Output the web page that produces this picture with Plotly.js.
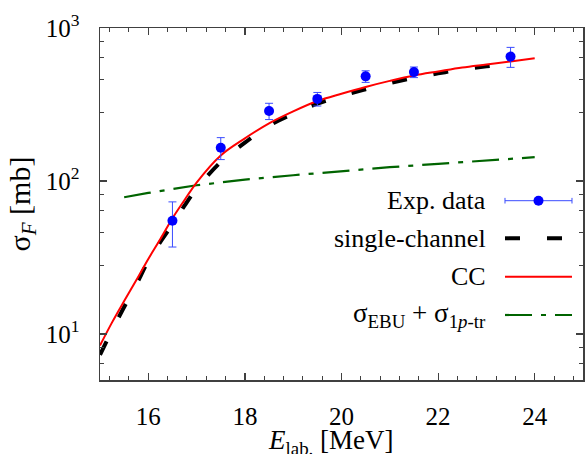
<!DOCTYPE html>
<html>
<head>
<meta charset="utf-8">
<script src="https://cdn.plot.ly/plotly-3.0.1.min.js"></script>
<style>html,body{margin:0;padding:0;background:#fff;}#chart{width:588px;height:454px;}</style>
</head>
<body>
<div id="chart"></div>
<script>
// Experimental data
const expE = [16.5, 17.5, 18.5, 19.5, 20.5, 21.5, 23.5];
const expSigma = [55, 165, 287, 344, 483, 515, 650];
const expErr = [18, 27, 35, 35, 42, 41, 97];

// single-channel calculation
const scE = [15, 15.25, 15.5, 15.75, 16, 16.25, 16.5, 16.75, 17, 17.5, 18, 18.5, 19, 19.5, 20, 20.5, 21, 21.5, 22, 22.5, 23, 23.5];
const scSigma = [7.3, 10.6, 15.0, 21, 30, 40, 52, 69, 89, 133, 178, 230, 275, 320, 360, 398, 437, 472, 505, 537, 562, 585];

// CC calculation
const ccE = [15, 15.25, 15.5, 15.75, 16, 16.25, 16.5, 16.75, 17, 17.5, 18, 18.5, 19, 19.5, 20, 20.5, 21, 21.5, 22, 22.5, 23, 23.5, 24];
const ccSigma = [8.4, 11.9, 16.4, 22.4, 30.9, 41.7, 57, 75, 97.7, 147, 190, 238, 285, 333, 372, 412, 451, 489, 520, 552, 578, 605, 635];

// sigma_EBU + sigma_1p-tr
const ebuE = [15.5, 16, 17, 18, 19, 20, 21, 22, 23, 24];
const ebuSigma = [78.3, 83.5, 93.8, 102, 109, 116.4, 123, 129.4, 136.5, 143];

// Axis ticks
const xTickVals = [16, 18, 20, 22, 24];
const xTickText = ['16', '18', '20', '22', '24'];
const xMinorVals = [15.2, 15.6, 16.4, 16.8, 17.2, 17.6, 18.4, 18.8, 19.2, 19.6, 20.4, 20.8, 21.2, 21.6, 22.4, 22.8, 23.2, 23.6, 24.4, 24.8];
const yTickVals = [10, 100, 1000];
const yTickText = ['10<sup>1</sup>', '10<sup>2</sup>', '10<sup>3</sup>'];
const yMinorVals = [6.4, 8.2, 28, 46, 64, 82, 280, 460, 640, 820];

// Labels
const legendLabels = ['Exp. data', 'single-channel', 'CC', 'σ<sub>EBU</sub> + σ<sub>1<i>p</i>-tr</sub>'];
const xTitle = '<i>E</i><sub>lab.</sub> [MeV]';
const yTitle = 'σ<sub><i>F</i></sub> [mb]';

const FONT = 'Liberation Serif';

const traces = [
  {
    x: ebuE, y: ebuSigma, mode: 'lines', type: 'scatter',
    line: {color: '#006400', width: 2.2, dash: '27px,9px,5px,9px'},
    showlegend: false, hoverinfo: 'skip'
  },
  {
    x: scE, y: scSigma, mode: 'lines', type: 'scatter',
    line: {color: '#000000', width: 4, dash: '15px,27px', shape: 'spline'},
    showlegend: false, hoverinfo: 'skip'
  },
  {
    x: ccE, y: ccSigma, mode: 'lines', type: 'scatter',
    line: {color: '#ff0000', width: 2, shape: 'spline'},
    showlegend: false, hoverinfo: 'skip'
  },
  {
    x: expE, y: expSigma, mode: 'markers', type: 'scatter',
    marker: {color: '#0000ff', size: 10},
    error_y: {type: 'data', array: expErr, visible: true, color: '#3a4cff', thickness: 1, width: 4},
    showlegend: false, hoverinfo: 'skip'
  }
];

// legend geometry (paper coords)
const lx0 = 0.8385, lx1 = 0.9772, ltext = 0.803;
const ly = [0.5094, 0.4026, 0.2935, 0.1847];

const annotations = legendLabels.map((t, i) => ({
  text: t, xref: 'paper', yref: 'paper', x: ltext, y: ly[i],
  xanchor: 'right', yanchor: 'middle', showarrow: false,
  font: {family: FONT, size: i === 3 ? 27 : 26, color: '#000'}
}));
// x-axis title placed as annotation below the tick labels (centre at ~441 px)
annotations.push({
  text: xTitle, xref: 'paper', yref: 'paper', x: 0.478, y: -0.176,
  xanchor: 'center', yanchor: 'middle', showarrow: false,
  font: {family: FONT, size: 27, color: '#000'}
});

const shapes = [
  {type: 'line', xref: 'paper', yref: 'paper', x0: lx0, x1: lx1, y0: ly[0], y1: ly[0], line: {color: '#3a4cff', width: 1}},
  {type: 'line', xref: 'paper', yref: 'paper', x0: lx0, x1: lx0, y0: ly[0] - 0.008, y1: ly[0] + 0.008, line: {color: '#3a4cff', width: 1}},
  {type: 'line', xref: 'paper', yref: 'paper', x0: lx1, x1: lx1, y0: ly[0] - 0.008, y1: ly[0] + 0.008, line: {color: '#3a4cff', width: 1}},
  {type: 'circle', xref: 'paper', yref: 'paper', xsizemode: 'pixel', ysizemode: 'pixel',
   xanchor: (lx0 + lx1) / 2, yanchor: ly[0], x0: -5, x1: 5, y0: -5, y1: 5,
   fillcolor: '#0000ff', line: {color: '#0000ff', width: 0}},
  {type: 'line', xref: 'paper', yref: 'paper', x0: lx0, x1: lx1, y0: ly[1], y1: ly[1], line: {color: '#000', width: 4, dash: '15px,27px'}},
  {type: 'line', xref: 'paper', yref: 'paper', x0: lx0, x1: lx1, y0: ly[2], y1: ly[2], line: {color: '#ff0000', width: 2}},
  {type: 'line', xref: 'paper', yref: 'paper', x0: lx0, x1: lx1, y0: ly[3], y1: ly[3], line: {color: '#006400', width: 2.2, dash: '27px,9px,5px,9px'}}
];

const axisCommon = {
  showline: true, linecolor: '#404040', linewidth: 1.5, mirror: 'ticks',
  ticks: 'inside', ticklen: 7, tickwidth: 1.2, tickcolor: '#404040',
  showgrid: false, zeroline: false,
  tickfont: {family: FONT, size: 25, color: '#000'}
};

const layout = {
  width: 588, height: 454,
  margin: {l: 100, r: 5, t: 28, b: 74},
  paper_bgcolor: '#fff', plot_bgcolor: '#fff',
  font: {family: FONT, color: '#000'},
  xaxis: Object.assign({}, axisCommon, {
    range: [15, 25], tickmode: 'array', tickvals: xTickVals, ticktext: xTickText,
    ticklabelstandoff: 13,
    minor: {tickmode: 'array', tickvals: xMinorVals, ticks: 'inside', ticklen: 4, tickwidth: 1, tickcolor: '#404040'}
  }),
  yaxis: Object.assign({}, axisCommon, {
    type: 'log', range: [Math.log10(5), 3], tickmode: 'array', tickvals: yTickVals, ticktext: yTickText,
    ticklabelstandoff: 14,
    minor: {tickmode: 'array', tickvals: yMinorVals, ticks: 'inside', ticklen: 4, tickwidth: 1, tickcolor: '#404040'},
    title: {text: yTitle, font: {family: FONT, size: 30, color: '#000'}, standoff: 6}
  }),
  annotations: annotations,
  shapes: shapes,
  showlegend: false
};

Plotly.newPlot('chart', traces, layout, {staticPlot: true, displayModeBar: false});
</script>
</body>
</html>
